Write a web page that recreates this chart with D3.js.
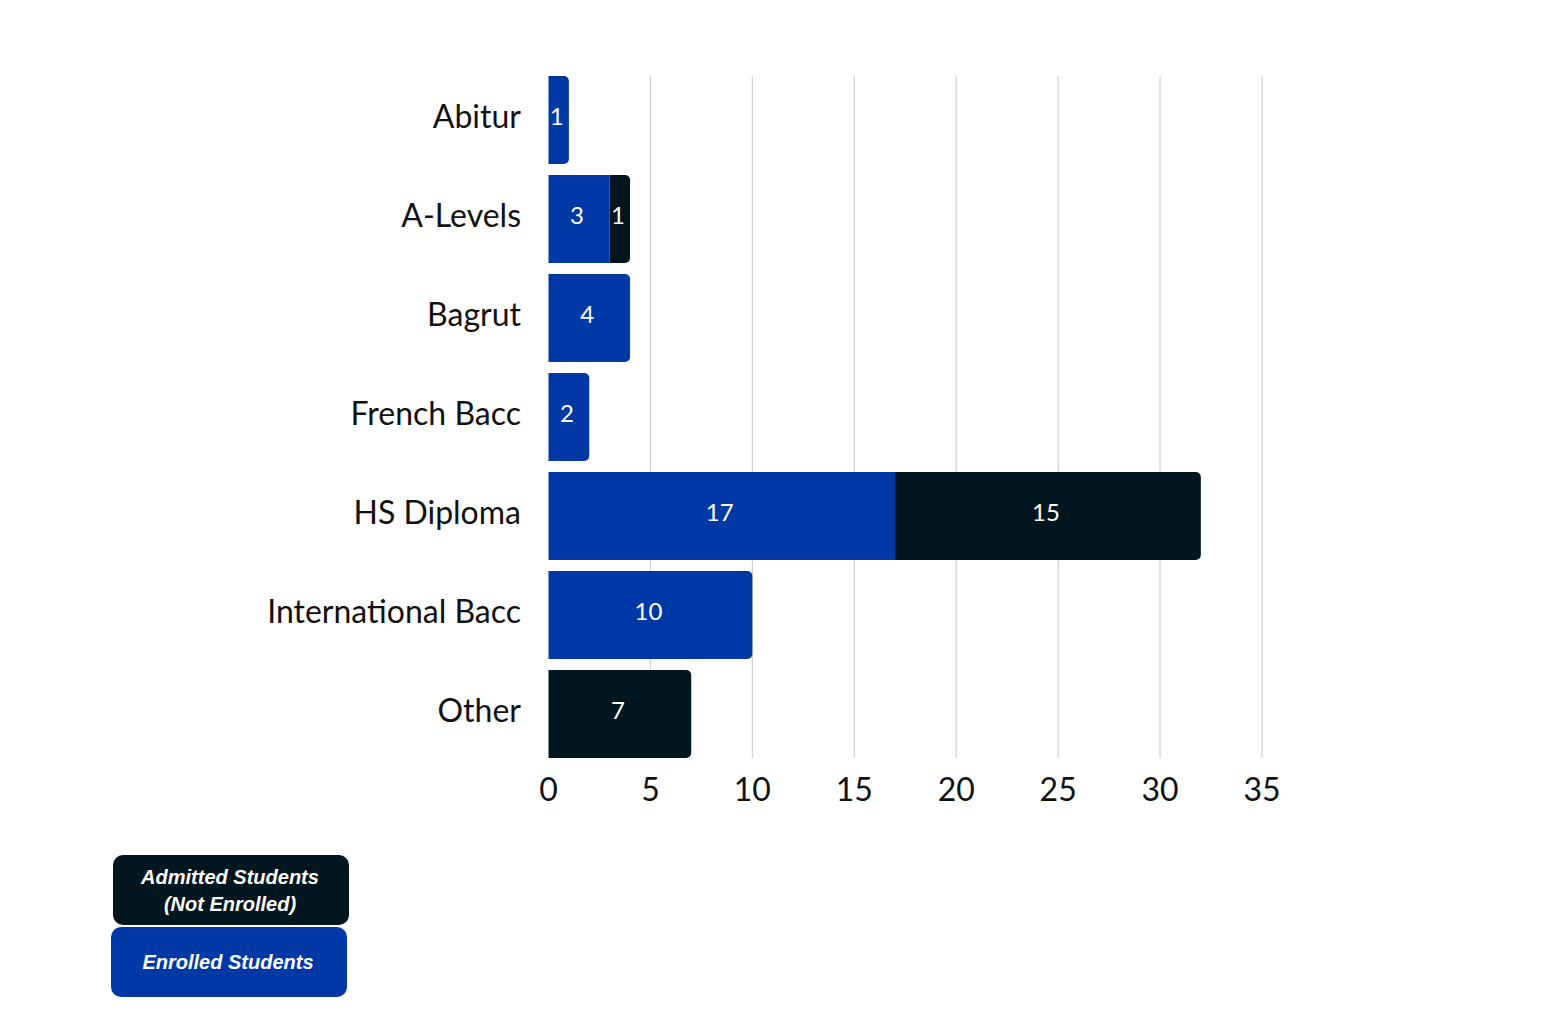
<!DOCTYPE html>
<html>
<head>
<meta charset="utf-8">
<script src="https://cdn.jsdelivr.net/npm/d3@7"></script>
<style>
  body { margin: 0; background: #fff; }
  svg { display: block; }
</style>
</head>
<body>
<div id="chart"></div>
<script>
// data
var categories = ["Abitur", "A-Levels", "Bagrut", "French Bacc", "HS Diploma", "International Bacc", "Other"];
var enrolled = [1, 3, 4, 2, 17, 10, 0];
var admitted = [0, 1, 0, 0, 15, 0, 7];
var ticks = [0, 5, 10, 15, 20, 25, 30, 35];
var seriesNames = ["Enrolled Students", "Admitted Students (Not Enrolled)"];

var width = 1543, height = 1023;
var blue = "#0039a6", dark = "#021620";

var svg = d3.select("#chart").append("svg")
    .attr("width", width)
    .attr("height", height);

var x = d3.scaleLinear().domain([0, 35]).range([548.5, 1262]);
var y = d3.scaleBand().domain(categories).range([76, 758]).paddingInner(0.111).paddingOuter(0);

// grid
svg.append("g").selectAll("line")
  .data(ticks.slice(1))
  .enter().append("line")
    .attr("x1", function(d){ return x(d); })
    .attr("x2", function(d){ return x(d); })
    .attr("y1", 76)
    .attr("y2", 758)
    .attr("stroke", "#d0d0d0")
    .attr("stroke-width", 1.2);

// build stacked segments
var rows = categories.map(function(c, i){
  return {cat: c, vals: [enrolled[i], admitted[i]]};
});
var segs = [];
rows.forEach(function(r){
  var x0 = 0, last = -1;
  r.vals.forEach(function(v, k){ if (v > 0) last = k; });
  r.vals.forEach(function(v, k){
    if (v > 0) segs.push({cat: r.cat, k: k, v: v, x0: x0, x1: x0 + v, round: k == last});
    x0 += v;
  });
});

function segPath(d){
  var l = x(d.x0), rr = x(d.x1), t = y(d.cat), b = t + y.bandwidth();
  var r = d.round ? 5 : 0;
  return "M" + l + "," + t + "H" + (rr - r) +
    (r ? "A" + r + "," + r + " 0 0 1 " + rr + "," + (t + r) : "") +
    "V" + (b - r) +
    (r ? "A" + r + "," + r + " 0 0 1 " + (rr - r) + "," + b : "") +
    "H" + l + "Z";
}

svg.append("g").selectAll("path")
  .data(segs)
  .enter().append("path")
    .attr("d", segPath)
    .attr("fill", function(d){ return d.k == 0 ? blue : dark; });

svg.append("g").selectAll("text")
  .data(segs)
  .enter().append("text")
    .attr("x", function(d){ return (x(d.x0) + x(d.x1)) / 2 - 2; })
    .attr("y", function(d){ return y(d.cat) + y.bandwidth() / 2 - 3; })
    .attr("dy", "0.35em")
    .attr("text-anchor", "middle")
    .attr("fill", "#fff")
    .style("font-family", "Lato, sans-serif")
    .style("font-size", "24px")
    .text(function(d){ return d.v; });

// category labels
svg.append("g").selectAll("text")
  .data(categories)
  .enter().append("text")
    .attr("x", 521)
    .attr("y", function(d){ return y(d) + y.bandwidth() / 2 - 3; })
    .attr("dy", "0.35em")
    .attr("text-anchor", "end")
    .attr("fill", "#111")
    .style("font-family", "Lato, sans-serif")
    .style("font-size", "32px")
    .text(function(d){ return d; });

// x tick labels
svg.append("g").selectAll("text")
  .data(ticks)
  .enter().append("text")
    .attr("x", function(d){ return x(d); })
    .attr("y", 801)
    .attr("text-anchor", "middle")
    .attr("fill", "#111")
    .style("font-family", "Lato, sans-serif")
    .style("font-size", "32px")
    .text(function(d){ return d; });

// legend boxes
var legend = [
  {lines: ["Admitted Students", "(Not Enrolled)"], fill: dark, x: 113, y: 855},
  {lines: ["Enrolled Students"], fill: blue, x: 111, y: 927}
];
var lg = svg.append("g").selectAll("g")
  .data(legend)
  .enter().append("g")
    .attr("transform", function(d){ return "translate(" + d.x + "," + d.y + ")"; });

lg.append("rect")
    .attr("width", 236)
    .attr("height", 70)
    .attr("rx", 10)
    .attr("fill", function(d){ return d.fill; });

lg.each(function(d){
  var g = d3.select(this);
  var n = d.lines.length;
  d.lines.forEach(function(s, i){
    g.append("text")
      .attr("x", 117)
      .attr("y", 35 + (i - (n - 1) / 2) * 27)
      .attr("dy", "0.35em")
      .attr("text-anchor", "middle")
      .attr("fill", "#fff")
      .style("font-family", "'Liberation Sans', Arial, sans-serif")
      .style("font-weight", "bold")
      .style("font-style", "italic")
      .style("font-size", "20px")
      .text(s);
  });
});
</script>
</body>
</html>
